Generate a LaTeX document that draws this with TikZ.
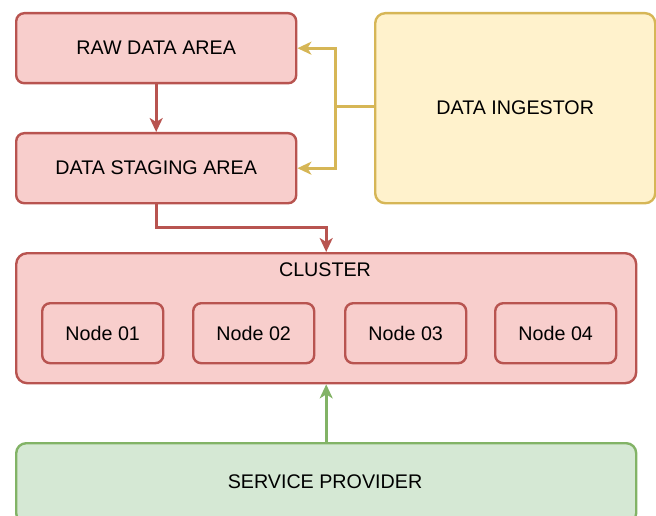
\documentclass[tikz,border=0pt]{standalone}
\usepackage{fontspec}
\setmainfont{Liberation Sans}
\usetikzlibrary{arrows.meta}
\definecolor{redfill}{HTML}{F8CECC}
\definecolor{redline}{HTML}{B85450}
\definecolor{yelfill}{HTML}{FFF2CC}
\definecolor{yelline}{HTML}{D6B656}
\definecolor{grnfill}{HTML}{D5E8D4}
\definecolor{grnline}{HTML}{82B366}
\tikzset{
  box/.style={draw, line width=2.4pt, rounded corners=#1, inner sep=0pt, anchor=north west},
  box/.default=8pt,
  redbox/.style={box=#1, fill=redfill, draw=redline},
  redbox/.default=8pt,
  lbl/.style={font=\fontsize{19.7}{23}\selectfont, inner sep=0pt},
  conn/.style={line width=3pt, -{Stealth[length=14pt,width=13pt,inset=4pt]}},
}
\begin{document}
\begin{tikzpicture}[x=1pt,y=-1pt]
\useasboundingbox (0,0) rectangle (656,516);
\begin{scope}
\clip (0,0) rectangle (656,516);
% boxes
\node[redbox, minimum width=280pt, minimum height=70pt] (raw) at (15,12) {};
\node[redbox, minimum width=280pt, minimum height=70pt] (stage) at (15,132) {};
\node[box=10pt, fill=yelfill, draw=yelline, minimum width=280pt, minimum height=190pt] (ing) at (374,12) {};
\node[redbox=11pt, minimum width=620pt, minimum height=130pt] (cluster) at (15,252) {};
\node[redbox, minimum width=121pt, minimum height=60pt] (n1) at (41,302) {};
\node[redbox, minimum width=121pt, minimum height=60pt] (n2) at (192,302) {};
\node[redbox, minimum width=121pt, minimum height=60pt] (n3) at (344,302) {};
\node[redbox, minimum width=121pt, minimum height=60pt] (n4) at (494,302) {};
\node[box=10pt, fill=grnfill, draw=grnline, minimum width=620pt, minimum height=80pt] (sp) at (15,442) {};
\end{scope}
% labels
\node[lbl] at (raw.center) {RAW DATA AREA};
\node[lbl] at (stage.center) {DATA STAGING AREA};
\node[lbl] at (ing.center) {DATA INGESTOR};
\node[lbl] at (325,270) {CLUSTER};
\node[lbl] at (n1.center) {Node 01};
\node[lbl] at (n2.center) {Node 02};
\node[lbl] at (n3.center) {Node 03};
\node[lbl] at (n4.center) {Node 04};
\node[lbl] at (325,482) {SERVICE PROVIDER};
% connectors
\coordinate (split) at (335,107);
\draw[conn, draw=redline] (raw.south) -- (stage.north);
\draw[conn, draw=redline] (stage.south) |- (240,227) -| (cluster.north);
\draw[line width=3pt, draw=yelline] (ing.west |- split) -- (split);
\draw[conn, draw=yelline] (split) |- (raw.east);
\draw[conn, draw=yelline] (split) |- (stage.east);
\draw[conn, draw=grnline] (sp.north) -- (cluster.south);
\end{tikzpicture}
\end{document}
